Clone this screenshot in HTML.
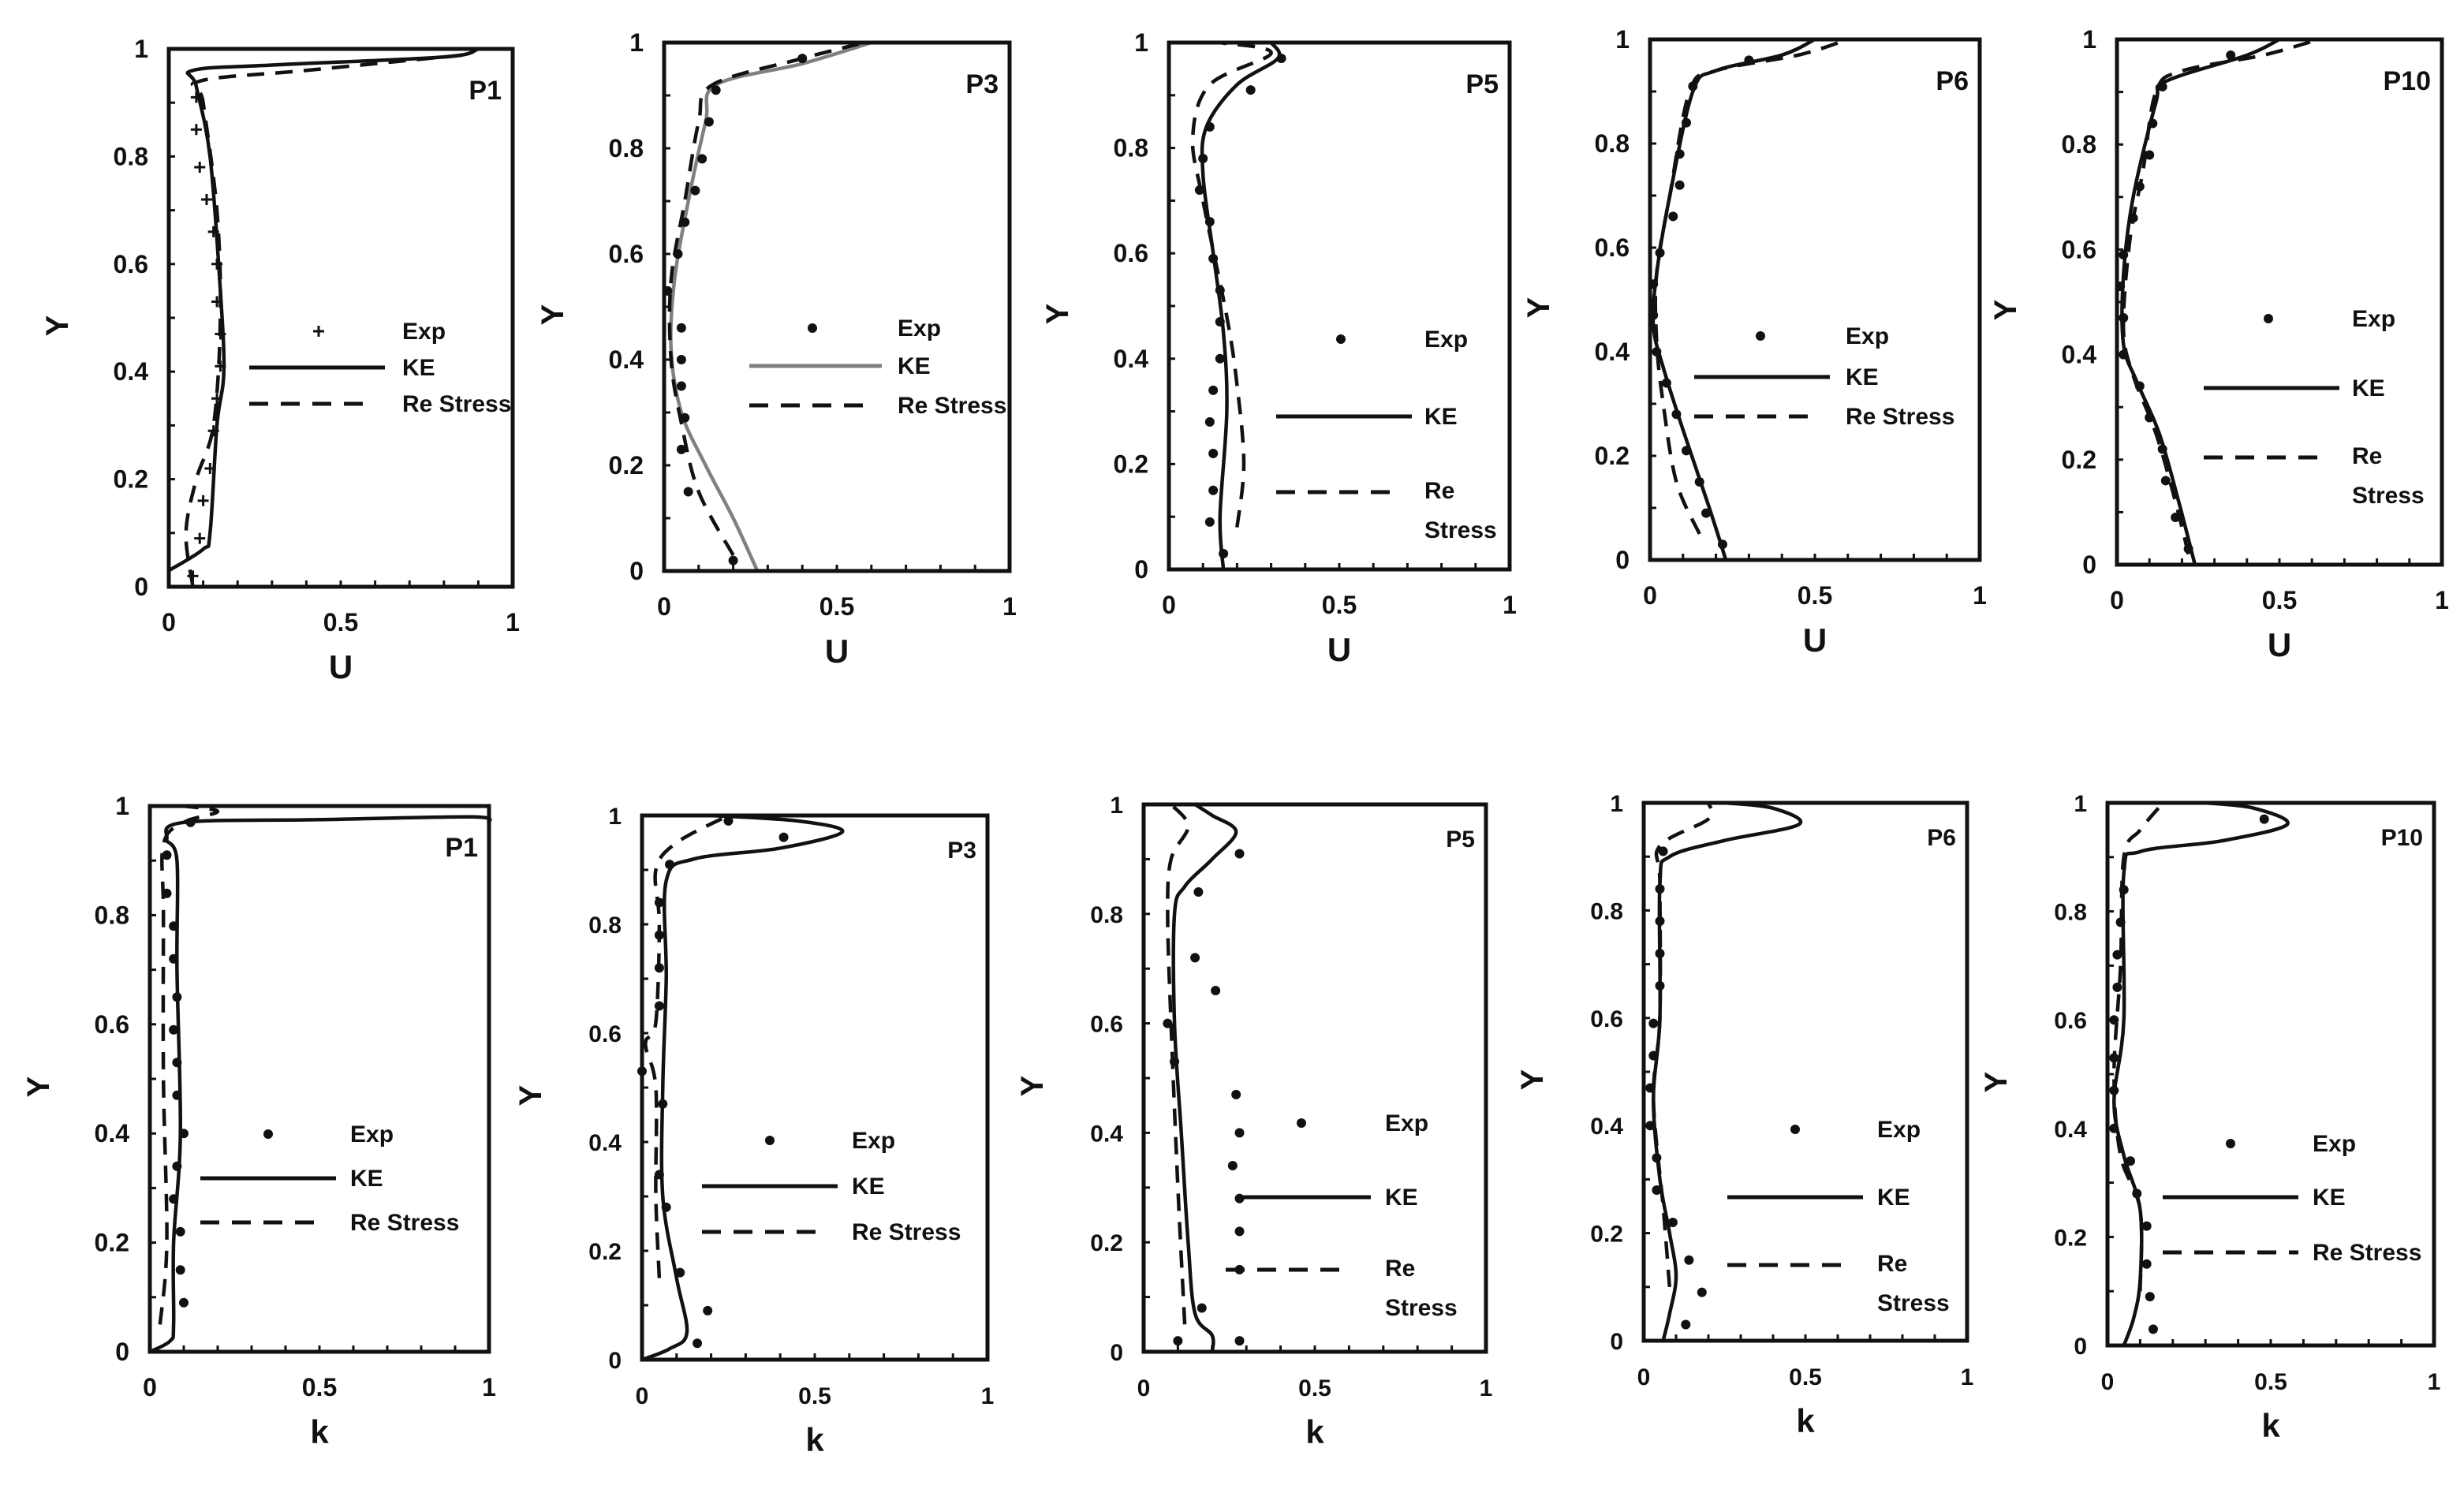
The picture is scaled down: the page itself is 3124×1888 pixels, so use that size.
<!DOCTYPE html>
<html><head><meta charset="utf-8"><style>
html,body{margin:0;padding:0;background:#fff;}
svg{display:block;}
text{font-family:"Liberation Sans",sans-serif;font-weight:bold;fill:#111;}
</style></head><body>
<svg id="fig" width="3124" height="1888" viewBox="0 0 3124 1888"></svg>
<script>
// ---------- data (x value, Y value) ----------
const uP1_exp_x=[0.07,0.09,0.10,0.12,0.13,0.14,0.15,0.15,0.14,0.14,0.13,0.11,0.09,0.08,0.08];
const uP1_exp_y=[0.02,0.09,0.16,0.22,0.29,0.35,0.41,0.47,0.53,0.60,0.66,0.72,0.78,0.85,0.91];
const uP1_ke_x=[0.00,0.10,0.12,0.14,0.16,0.15,0.12,0.08,0.07,0.30,0.80,0.90];
const uP1_ke_y=[0.03,0.07,0.10,0.30,0.40,0.55,0.80,0.93,0.96,0.97,0.985,1.00];
const uP1_rs_x=[0.07,0.05,0.08,0.13,0.15,0.14,0.10,0.09,0.40,0.88];
const uP1_rs_y=[0.00,0.10,0.20,0.30,0.50,0.70,0.90,0.94,0.96,0.99];

const uP3_exp_x=[0.20,0.07,0.05,0.06,0.05,0.05,0.05,0.01,0.04,0.06,0.09,0.11,0.13,0.15,0.40];
const uP3_exp_y=[0.02,0.15,0.23,0.29,0.35,0.40,0.46,0.53,0.60,0.66,0.72,0.78,0.85,0.91,0.97];
const uP3_ke_x=[0.27,0.20,0.12,0.05,0.02,0.03,0.07,0.12,0.15,0.40,0.60];
const uP3_ke_y=[0.00,0.10,0.20,0.30,0.42,0.55,0.70,0.85,0.92,0.96,1.00];
const uP3_rs_x=[0.20,0.10,0.05,0.02,0.02,0.06,0.10,0.14,0.40,0.58];
const uP3_rs_y=[0.03,0.15,0.28,0.40,0.55,0.70,0.85,0.92,0.97,1.00];

const uP5_exp_x=[0.16,0.12,0.13,0.13,0.12,0.13,0.15,0.15,0.15,0.13,0.12,0.09,0.10,0.12,0.24,0.33];
const uP5_exp_y=[0.03,0.09,0.15,0.22,0.28,0.34,0.40,0.47,0.53,0.59,0.66,0.72,0.78,0.84,0.91,0.97];
const uP5_ke_x=[0.16,0.15,0.17,0.16,0.13,0.10,0.11,0.20,0.32,0.30];
const uP5_ke_y=[0.00,0.10,0.30,0.45,0.60,0.75,0.84,0.92,0.97,1.00];
const uP5_rs_x=[0.20,0.22,0.20,0.17,0.10,0.07,0.12,0.30,0.15];
const uP5_rs_y=[0.08,0.20,0.35,0.48,0.70,0.82,0.92,0.98,1.00];

const uP6_exp_x=[0.22,0.17,0.15,0.11,0.08,0.05,0.02,0.01,0.01,0.03,0.07,0.09,0.09,0.11,0.13,0.30];
const uP6_exp_y=[0.03,0.09,0.15,0.21,0.28,0.34,0.40,0.47,0.53,0.59,0.66,0.72,0.78,0.84,0.91,0.96];
const uP6_ke_x=[0.23,0.18,0.10,0.04,0.01,0.02,0.06,0.13,0.20,0.40,0.50];
const uP6_ke_y=[0.00,0.10,0.25,0.37,0.45,0.55,0.70,0.90,0.94,0.97,1.00];
const uP6_rs_x=[0.15,0.08,0.04,0.02,0.02,0.06,0.12,0.20,0.45,0.60];
const uP6_rs_y=[0.05,0.15,0.30,0.42,0.55,0.70,0.90,0.94,0.97,1.00];

const uP10_exp_x=[0.22,0.18,0.15,0.14,0.10,0.07,0.02,0.02,0.01,0.02,0.05,0.07,0.10,0.11,0.14,0.35];
const uP10_exp_y=[0.03,0.09,0.16,0.22,0.28,0.34,0.40,0.47,0.53,0.59,0.66,0.72,0.78,0.84,0.91,0.97];
const uP10_ke_x=[0.24,0.19,0.13,0.06,0.02,0.02,0.05,0.12,0.15,0.40,0.50];
const uP10_ke_y=[0.00,0.12,0.25,0.35,0.42,0.55,0.70,0.88,0.92,0.97,1.00];
const uP10_rs_x=[0.22,0.18,0.12,0.05,0.02,0.04,0.08,0.12,0.20,0.45,0.62];
const uP10_rs_y=[0.02,0.12,0.25,0.36,0.45,0.62,0.75,0.90,0.94,0.97,1.00];

const kP1_exp_x=[0.10,0.09,0.09,0.07,0.08,0.10,0.08,0.08,0.07,0.08,0.07,0.07,0.05,0.05,0.12];
const kP1_exp_y=[0.09,0.15,0.22,0.28,0.34,0.40,0.47,0.53,0.59,0.65,0.72,0.78,0.84,0.91,0.97];
const kP1_ke_x=[0.00,0.06,0.07,0.07,0.09,0.08,0.08,0.05,0.10,0.50,0.95,1.00];
const kP1_ke_y=[0.00,0.02,0.05,0.20,0.40,0.70,0.90,0.94,0.97,0.975,0.98,0.97];
const kP1_rs_x=[0.03,0.05,0.04,0.04,0.04,0.10,0.20,0.10];
const kP1_rs_y=[0.05,0.20,0.50,0.80,0.93,0.97,0.99,1.00];

const kP3_exp_x=[0.16,0.19,0.11,0.07,0.05,0.06,0.00,0.05,0.05,0.05,0.05,0.08,0.41,0.25];
const kP3_exp_y=[0.03,0.09,0.16,0.28,0.34,0.47,0.53,0.65,0.72,0.78,0.84,0.91,0.96,0.99];
const kP3_ke_x=[0.00,0.08,0.13,0.10,0.06,0.06,0.07,0.07,0.15,0.40,0.58,0.45,0.20];
const kP3_ke_y=[0.00,0.02,0.05,0.15,0.30,0.50,0.70,0.88,0.92,0.94,0.97,0.99,1.00];
const kP3_rs_x=[0.05,0.04,0.04,0.01,0.04,0.05,0.04,0.10,0.25];
const kP3_rs_y=[0.15,0.30,0.50,0.58,0.62,0.80,0.90,0.95,1.00];

const kP5_exp_x=[0.10,0.28,0.17,0.28,0.28,0.28,0.26,0.28,0.27,0.09,0.07,0.21,0.15,0.16,0.28];
const kP5_exp_y=[0.02,0.02,0.08,0.15,0.22,0.28,0.34,0.40,0.47,0.53,0.60,0.66,0.72,0.84,0.91];
const kP5_ke_x=[0.20,0.20,0.15,0.13,0.11,0.09,0.09,0.12,0.20,0.27,0.20,0.15];
const kP5_ke_y=[0.00,0.03,0.07,0.20,0.40,0.60,0.80,0.85,0.90,0.95,0.98,1.00];
const kP5_rs_x=[0.12,0.10,0.08,0.07,0.08,0.13,0.08];
const kP5_rs_y=[0.05,0.30,0.60,0.80,0.90,0.96,1.00];

const kP6_exp_x=[0.13,0.18,0.14,0.09,0.04,0.04,0.02,0.02,0.03,0.03,0.05,0.05,0.05,0.05,0.06];
const kP6_exp_y=[0.03,0.09,0.15,0.22,0.28,0.34,0.40,0.47,0.53,0.59,0.66,0.72,0.78,0.84,0.91];
const kP6_ke_x=[0.06,0.08,0.10,0.08,0.05,0.03,0.05,0.05,0.08,0.25,0.48,0.40,0.25];
const kP6_ke_y=[0.00,0.05,0.12,0.20,0.30,0.45,0.60,0.85,0.90,0.93,0.96,0.99,1.00];
const kP6_rs_x=[0.08,0.06,0.03,0.05,0.05,0.05,0.20,0.20];
const kP6_rs_y=[0.10,0.25,0.45,0.60,0.85,0.92,0.97,1.00];

const kP10_exp_x=[0.14,0.13,0.12,0.12,0.09,0.07,0.02,0.02,0.02,0.02,0.03,0.03,0.04,0.05,0.48];
const kP10_exp_y=[0.03,0.09,0.15,0.22,0.28,0.34,0.40,0.47,0.53,0.60,0.66,0.72,0.78,0.84,0.97];
const kP10_ke_x=[0.05,0.08,0.10,0.10,0.05,0.02,0.05,0.05,0.10,0.35,0.55,0.45,0.30];
const kP10_ke_y=[0.00,0.05,0.12,0.25,0.35,0.45,0.60,0.87,0.91,0.93,0.96,0.99,1.00];
const kP10_rs_x=[0.10,0.10,0.04,0.02,0.04,0.05,0.10,0.17];
const kP10_rs_y=[0.10,0.25,0.35,0.50,0.70,0.90,0.95,1.00];

const xTicks=["0","0.5","1"];
const yTicks=["0","0.2","0.4","0.6","0.8","1"];

// ---------- layout ----------
const NS="http://www.w3.org/2000/svg";
const svg=document.getElementById('fig');
function mk(tag,attrs,parent){const e=document.createElementNS(NS,tag);for(const k in attrs)e.setAttribute(k,attrs[k]);(parent||svg).appendChild(e);return e;}

const panels=[
 {id:'u-p1',name:'P1',xl:'U',x0:214,x1:650,yb:744,yt:62,ex:uP1_exp_x,ey:uP1_exp_y,kx:uP1_ke_x,ky:uP1_ke_y,rx:uP1_rs_x,ry:uP1_rs_y,plus:true,keGray:false,
  leg:{mx:404,my:420,tx:510,ke:[316,488,466],rs:[316,470,512],two:false}},
 {id:'u-p3',name:'P3',xl:'U',x0:842,x1:1280,yb:724,yt:54,ex:uP3_exp_x,ey:uP3_exp_y,kx:uP3_ke_x,ky:uP3_ke_y,rx:uP3_rs_x,ry:uP3_rs_y,keGray:true,
  leg:{mx:1030,my:416,tx:1138,ke:[950,1118,464],rs:[950,1100,514],two:false}},
 {id:'u-p5',name:'P5',xl:'U',x0:1482,x1:1914,yb:722,yt:54,ex:uP5_exp_x,ey:uP5_exp_y,kx:uP5_ke_x,ky:uP5_ke_y,rx:uP5_rs_x,ry:uP5_rs_y,
  leg:{mx:1700,my:430,tx:1806,ke:[1618,1790,528],rs:[1618,1770,624],two:true}},
 {id:'u-p6',name:'P6',xl:'U',x0:2092,x1:2510,yb:710,yt:50,ex:uP6_exp_x,ey:uP6_exp_y,kx:uP6_ke_x,ky:uP6_ke_y,rx:uP6_rs_x,ry:uP6_rs_y,
  leg:{mx:2232,my:426,tx:2340,ke:[2148,2320,478],rs:[2148,2300,528],two:false}},
 {id:'u-p10',name:'P10',xl:'U',x0:2684,x1:3096,yb:716,yt:50,ex:uP10_exp_x,ey:uP10_exp_y,kx:uP10_ke_x,ky:uP10_ke_y,rx:uP10_rs_x,ry:uP10_rs_y,
  leg:{mx:2876,my:404,tx:2982,ke:[2794,2966,492],rs:[2794,2946,580],two:true}},
 {id:'k-p1',name:'P1',xl:'k',x0:190,x1:620,yb:1714,yt:1022,ex:kP1_exp_x,ey:kP1_exp_y,kx:kP1_ke_x,ky:kP1_ke_y,rx:kP1_rs_x,ry:kP1_rs_y,
  leg:{mx:340,my:1438,tx:444,ke:[254,426,1494],rs:[254,404,1550],two:false}},
 {id:'k-p3',name:'P3',xl:'k',x0:814,x1:1252,yb:1724,yt:1034,ex:kP3_exp_x,ey:kP3_exp_y,kx:kP3_ke_x,ky:kP3_ke_y,rx:kP3_rs_x,ry:kP3_rs_y,small:true,
  leg:{mx:976,my:1446,tx:1080,ke:[890,1062,1504],rs:[890,1038,1562],two:false}},
 {id:'k-p5',name:'P5',xl:'k',x0:1450,x1:1884,yb:1714,yt:1020,ex:kP5_exp_x,ey:kP5_exp_y,kx:kP5_ke_x,ky:kP5_ke_y,rx:kP5_rs_x,ry:kP5_rs_y,small:true,
  leg:{mx:1650,my:1424,tx:1756,ke:[1570,1738,1518],rs:[1554,1710,1610],two:true}},
 {id:'k-p6',name:'P6',xl:'k',x0:2084,x1:2494,yb:1700,yt:1018,ex:kP6_exp_x,ey:kP6_exp_y,kx:kP6_ke_x,ky:kP6_ke_y,rx:kP6_rs_x,ry:kP6_rs_y,small:true,
  leg:{mx:2276,my:1432,tx:2380,ke:[2190,2362,1518],rs:[2190,2340,1604],two:true}},
 {id:'k-p10',name:'P10',xl:'k',x0:2672,x1:3086,yb:1706,yt:1018,ex:kP10_exp_x,ey:kP10_exp_y,kx:kP10_ke_x,ky:kP10_ke_y,rx:kP10_rs_x,ry:kP10_rs_y,small:true,
  leg:{mx:2828,my:1450,tx:2932,ke:[2742,2914,1518],rs:[2742,2914,1588],two:false}}
];

function smooth(pts){
  let d='M'+pts[0][0].toFixed(1)+','+pts[0][1].toFixed(1);
  for(let i=0;i<pts.length-1;i++){
    const p0=pts[Math.max(0,i-1)],p1=pts[i],p2=pts[i+1],p3=pts[Math.min(pts.length-1,i+2)];
    const c1=[p1[0]+(p2[0]-p0[0])/6,p1[1]+(p2[1]-p0[1])/6];
    const c2=[p2[0]-(p3[0]-p1[0])/6,p2[1]-(p3[1]-p1[1])/6];
    d+=' C'+c1[0].toFixed(1)+','+c1[1].toFixed(1)+' '+c2[0].toFixed(1)+','+c2[1].toFixed(1)+' '+p2[0].toFixed(1)+','+p2[1].toFixed(1);
  }
  return d;
}

panels.forEach(p=>{
  const g=mk('g',{});
  
  
  const sx=v=>p.x0+v*(p.x1-p.x0);
  const sy=v=>p.yb-v*(p.yb-p.yt);
  // ticks
  for(let i=1;i<10;i++){
    const tx=sx(i/10);
    const t=mk('line',{x1:tx,x2:tx,y1:p.yb,y2:p.yb-8,stroke:'#111','stroke-width':3},g);
    
    
    const ty=sy(i/10);
    const t2=mk('line',{x1:p.x0,x2:p.x0+8,y1:ty,y2:ty,stroke:'#111','stroke-width':3},g);
    
    
  }
  // curves
  const ke=mk('path',{d:smooth(p.kx.map((v,i)=>[sx(v),sy(p.ky[i])])),fill:'none',stroke:p.keGray?'#808080':'#111','stroke-width':4.5},g);
  
  
  const rs=mk('path',{d:smooth(p.rx.map((v,i)=>[sx(v),sy(p.ry[i])])),fill:'none',stroke:'#111','stroke-width':4.5,'stroke-dasharray':'22 14'},g);
  
  
  // exp points
  p.ex.forEach((v,i)=>{
    const cx=sx(v),cy=sy(p.ey[i]);
    let m;
    if(p.plus){m=mk('path',{d:`M${cx-7},${cy}H${cx+7}M${cx},${cy-7}V${cy+7}`,stroke:'#111','stroke-width':3},g);}
    else{m=mk('circle',{cx:cx,cy:cy,r:6,fill:'#111'},g);}
    
    
  });
  // frame
  const fr=mk('rect',{x:p.x0,y:p.yt,width:p.x1-p.x0,height:p.yb-p.yt,fill:'none',stroke:'#111','stroke-width':5},g);
  
  
  // tick labels
  const fs=p.small?30:32;
  xTicks.forEach((s,i)=>{
    const t=mk('text',{x:sx(i/2),y:p.yb+56,'font-size':fs,'text-anchor':'middle'},g);t.textContent=s;
    
    
  });
  yTicks.forEach((s,i)=>{
    const t=mk('text',{x:p.x0-26,y:sy(i/5)+11,'font-size':fs,'text-anchor':'end'},g);t.textContent=s;
    
    
  });
  // axis titles
  const xt=mk('text',{x:(p.x0+p.x1)/2,y:p.yb+116,'font-size':42,'text-anchor':'middle'},g);xt.textContent=p.xl;
  
  
  const ymid=(p.yb+p.yt)/2+10;
  const yt=mk('text',{x:p.x0-128,y:ymid,'font-size':40,'text-anchor':'middle',transform:`rotate(-90 ${p.x0-128} ${ymid})`},g);yt.textContent='Y';
  
  
  // panel label
  const pl=mk('text',{x:p.x1-14,y:p.yt+(p.small?54:64),'font-size':p.small?30:34,'text-anchor':'end'},g);pl.textContent=p.name;
  
  
  // legend
  const L=p.leg;
  let lm;
  if(p.plus){lm=mk('path',{d:`M${L.mx-7},${L.my}H${L.mx+7}M${L.mx},${L.my-7}V${L.my+7}`,stroke:'#111','stroke-width':3},g);}
  else{lm=mk('circle',{cx:L.mx,cy:L.my,r:6,fill:'#111'},g);}
  
  
  const e1=mk('text',{x:L.tx,y:L.my+10,'font-size':30,'font-weight':'normal'},g);e1.textContent='Exp';
  
  
  const kl=mk('line',{x1:L.ke[0],x2:L.ke[1],y1:L.ke[2],y2:L.ke[2],stroke:p.keGray?'#808080':'#111','stroke-width':5},g);
  
  
  const e2=mk('text',{x:L.tx,y:L.ke[2]+10,'font-size':30},g);e2.textContent='KE';
  
  
  const rl=mk('line',{x1:L.rs[0],x2:L.rs[1],y1:L.rs[2],y2:L.rs[2],stroke:'#111','stroke-width':5,'stroke-dasharray':'24 16'},g);
  
  
  if(L.two){
    const a=mk('text',{x:L.tx,y:L.rs[2]+8,'font-size':30},g);a.textContent='Re';
    
    
    const b=mk('text',{x:L.tx,y:L.rs[2]+58,'font-size':30},g);b.textContent='Stress';
    
    
  } else {
    const a=mk('text',{x:L.tx,y:L.rs[2]+10,'font-size':30},g);a.textContent='Re Stress';
    
    
  }
});
</script>
</body></html>
